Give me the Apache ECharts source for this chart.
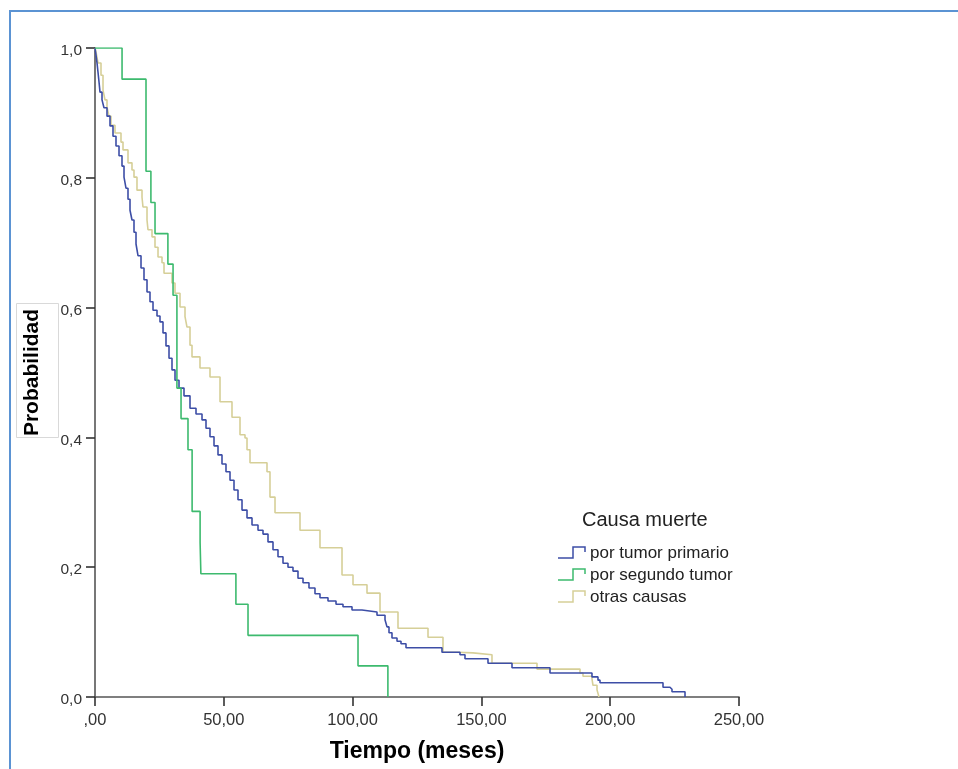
<!DOCTYPE html>
<html>
<head>
<meta charset="utf-8">
<script src="https://cdn.jsdelivr.net/npm/echarts@6/dist/echarts.min.js"></script>
<style>
html,body{margin:0;padding:0;background:#fff;}
#chart{width:958px;height:769px;}
</style>
</head>
<body>
<div id="chart"></div>
<script>
// ---- data (time in months, survival probability) ----
var seriesNames = ['por tumor primario', 'por segundo tumor', 'otras causas'];
var legendTitle = 'Causa muerte';
var xTicks = [0, 50, 100, 150, 200, 250];
var yTicks = [0, 0.2, 0.4, 0.6, 0.8, 1.0];

var tumorPrimario = [
  [0,1.000],[0.39,0.989],[0.78,0.977],[1.16,0.963],[1.55,0.948],[1.94,0.932],[2.72,0.920],[3.49,0.908],
  [4.66,0.895],[5.82,0.880],[6.99,0.864],[8.15,0.849],[9.32,0.834],[10.48,0.818],[11.26,0.801],[12.03,0.784],
  [12.81,0.767],[13.59,0.750],[14.36,0.735],[15.14,0.716],[15.92,0.698],[16.69,0.680],[17.86,0.661],[19.02,0.643],
  [20.19,0.624],[21.35,0.609],[22.52,0.596],[24.07,0.587],[25.23,0.578],[26.40,0.561],[27.56,0.541],[28.73,0.522],
  [29.89,0.504],[31.06,0.488],[32.61,0.476],[34.55,0.464],[36.88,0.445],[39.21,0.436],[41.54,0.427],[43.09,0.414],
  [44.64,0.401],[46.20,0.387],[47.75,0.373],[49.30,0.359],[50.85,0.347],[52.41,0.334],[53.96,0.319],[55.51,0.304],
  [57.07,0.288],[59.01,0.276],[60.95,0.265],[63.28,0.257],[65.22,0.251],[67.16,0.239],[69.10,0.227],[71.04,0.216],
  [72.98,0.206],[74.92,0.200],[76.86,0.194],[78.80,0.183],[80.75,0.176],[83.07,0.168],[85.40,0.159],[87.34,0.153],
  [90.45,0.148],[93.56,0.143],[96.27,0.139],[99.77,0.134],[103.65,0.131],[109.47,0.126],[112.58,0.119],[113.35,0.108],
  [114.13,0.099],[115.29,0.091],[117.24,0.086],[118.79,0.082],[120.73,0.076],[134.70,0.069],[141.69,0.065],[143.63,0.059],
  [152.56,0.052],[161.88,0.045],[176.63,0.037],[192.93,0.031],[195.26,0.026],[196.04,0.022],[220.50,0.015],[223.21,0.012],
  [223.99,0.008],[229.04,0.000]
];

var segundoTumor = [
  [0,1.000],[10.5,0.952],[19.8,0.810],[21.7,0.762],[23.3,0.714],[28.3,0.667],[30.3,0.619],[31.8,0.476],
  [33.4,0.429],[36.1,0.381],[37.7,0.286],[40.8,0.238],[41.1,0.190],[54.7,0.143],[59.4,0.095],[102.1,0.048],
  [113.7,0.000]
];

var otrasCausas = [
  [0,1.000],[0.39,0.994],[1.16,0.977],[2.33,0.958],[3.11,0.935],[3.88,0.920],[4.66,0.909],[5.43,0.895],
  [6.21,0.881],[7.76,0.869],[10.09,0.855],[10.87,0.843],[12.81,0.823],[14.36,0.812],[15.14,0.801],[16.30,0.781],
  [18.25,0.770],[18.63,0.755],[20.19,0.735],[20.57,0.720],[22.13,0.709],[23.29,0.693],[24.46,0.678],[26.01,0.669],
  [26.79,0.653],[29.89,0.638],[31.06,0.622],[33.00,0.601],[34.94,0.586],[35.71,0.570],[36.88,0.542],[37.66,0.524],
  [40.76,0.507],[44.64,0.493],[48.53,0.455],[53.18,0.431],[56.29,0.404],[58.23,0.399],[59.01,0.381],[60.17,0.361],
  [66.77,0.347],[67.93,0.308],[69.88,0.284],[79.58,0.257],[87.34,0.230],[95.89,0.188],[100.16,0.173],[105.59,0.160],
  [110.64,0.131],[117.62,0.106],[129.27,0.092],[135.09,0.069],[140.53,0.068],[146.74,0.065],[154.11,0.052],[171.58,0.043],
  [188.28,0.037],[189.44,0.032],[192.93,0.028],[193.32,0.018],[194.88,0.011],[195.65,0.000]
];

var colors = ['#3d4ea6', '#3dba6e', '#d6cf98'];

var chart = echarts.init(document.getElementById('chart'), null, {renderer: 'canvas'});
var FONT = 'Liberation Sans, Arial, sans-serif';

function legendIcon(x, y, color) {
  return {
    type: 'polyline',
    shape: {points: [[x, y + 5], [x + 15, y + 5], [x + 15, y - 6], [x + 27, y - 6], [x + 27, y - 1]]},
    style: {stroke: color, lineWidth: 1.5, fill: null}
  };
}

var legendX = 558, legendY0 = 553, legendGap = 22;
var graphics = [
  {type: 'rect', shape: {x: 10, y: 11, width: 980, height: 800}, style: {stroke: '#5b93d3', lineWidth: 2, fill: null}, z: 0},
  {type: 'rect', shape: {x: 16.5, y: 303.5, width: 42, height: 134}, style: {stroke: '#d9d9d9', lineWidth: 1, fill: '#fff'}, z: 0},
  {type: 'text', left: 582, top: 510, style: {text: legendTitle, font: '20px ' + FONT, fill: '#222'}}
];
for (var i = 0; i < seriesNames.length; i++) {
  var cy = legendY0 + i * legendGap;
  graphics.push(legendIcon(legendX, cy, colors[i]));
  graphics.push({type: 'text', left: 590, top: cy - 8, style: {text: seriesNames[i], font: '17px ' + FONT, fill: '#222'}});
}

function mkSeries(name, data, color) {
  return {
    name: name, type: 'line', step: 'end', data: data, showSymbol: false, symbol: 'none',
    lineStyle: {color: color, width: 1.6}, itemStyle: {color: color}, animation: false, z: 3
  };
}

chart.setOption({
  backgroundColor: '#fff',
  animation: false,
  grid: {left: 95, top: 48, right: 219, bottom: 72, containLabel: false},
  xAxis: {
    type: 'value', min: xTicks[0], max: xTicks[xTicks.length - 1], interval: 50,
    name: 'Tiempo (meses)', nameLocation: 'middle', nameGap: 43,
    nameTextStyle: {fontFamily: FONT, fontWeight: 'bold', fontSize: 23, color: '#000'},
    axisLine: {show: true, lineStyle: {color: '#555', width: 1.6}},
    axisTick: {show: true, length: 9, lineStyle: {color: '#333', width: 1.6}},
    axisLabel: {fontFamily: FONT, fontSize: 16.5, color: '#333', margin: 15,
      formatter: function (v) { return v === 0 ? ',00' : v.toFixed(2).replace('.', ','); }},
    splitLine: {show: false}
  },
  yAxis: {
    type: 'value', min: yTicks[0], max: yTicks[yTicks.length - 1], interval: 0.2,
    name: 'Probabilidad', nameLocation: 'middle', nameGap: 52, nameRotate: 90,
    nameTextStyle: {fontFamily: FONT, fontWeight: 'bold', fontSize: 21, color: '#000'},
    axisLine: {show: true, lineStyle: {color: '#555', width: 1.6}},
    axisTick: {show: true, length: 9, lineStyle: {color: '#333', width: 1.6}},
    axisLabel: {fontFamily: FONT, fontSize: 15.5, color: '#333', margin: 13,
      verticalAlign: 'top', lineHeight: 16, padding: [-5, 0, 0, 0],
      formatter: function (v) { return v.toFixed(1).replace('.', ','); }},
    splitLine: {show: false}
  },
  graphic: graphics,
  series: [
    mkSeries(seriesNames[2], otrasCausas, colors[2]),
    mkSeries(seriesNames[0], tumorPrimario, colors[0]),
    mkSeries(seriesNames[1], segundoTumor, colors[1])
  ]
});
</script>
</body>
</html>
